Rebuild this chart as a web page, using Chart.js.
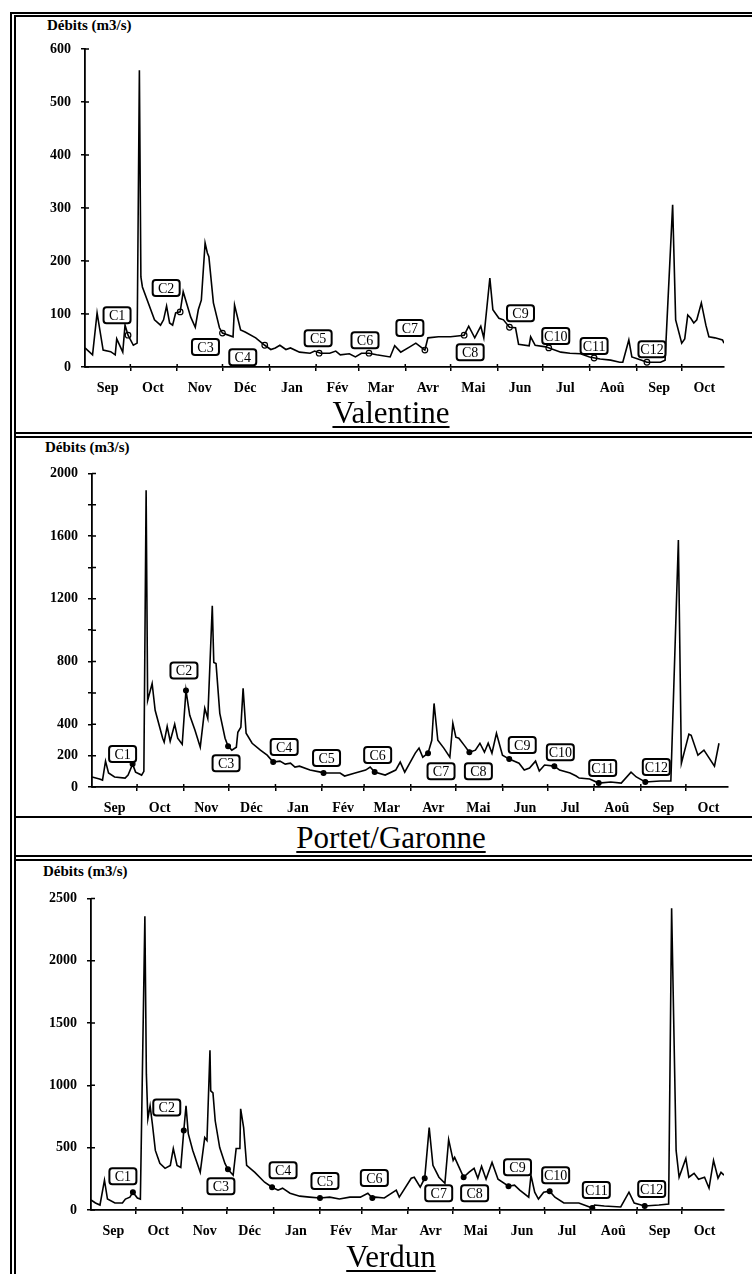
<!DOCTYPE html>
<html>
<head>
<meta charset="utf-8">
<script src="https://cdn.jsdelivr.net/npm/chart.js@4.4.1/dist/chart.umd.min.js"></script>
<style>
  html, body { margin: 0; padding: 0; background: #fff; }
  #page { position: relative; width: 752px; height: 1274px; overflow: hidden; font-family: "Liberation Serif", "Times New Roman", serif; }
  canvas { position: absolute; left: 0; }
  .rule { position: absolute; background: #000; }
  .ytitle { position: absolute; font-weight: bold; font-size: 15px; line-height: 1; white-space: nowrap; }
  .station { position: absolute; left: 191px; width: 400px; text-align: center; font-size: 31px; line-height: 1;
             text-decoration: underline; text-decoration-thickness: 2px; text-underline-offset: 3px; }
</style>
</head>
<body>
<div id="page">
  <div class="rule" style="left:10px;top:12px;width:2px;height:1262px"></div>
  <div class="rule" style="left:14px;top:15px;width:2px;height:1259px"></div>
  <div class="rule" style="left:10px;top:12px;width:742px;height:2px"></div>
  <div class="rule" style="left:14px;top:15px;width:738px;height:2px"></div>
  <div class="rule" style="left:14px;top:432px;width:738px;height:2px"></div>
  <div class="rule" style="left:14px;top:436px;width:738px;height:2px"></div>
  <div class="rule" style="left:14px;top:816px;width:738px;height:2px"></div>
  <div class="rule" style="left:14px;top:855px;width:738px;height:2px"></div>
  <div class="rule" style="left:14px;top:859px;width:738px;height:2px"></div>

  <div class="ytitle" style="left:47px;top:18px">Débits (m3/s)</div>
  <div class="ytitle" style="left:45px;top:440px">Débits (m3/s)</div>
  <div class="ytitle" style="left:43px;top:864px">Débits (m3/s)</div>

  <canvas id="valentine" width="752" height="380" style="top:30px"></canvas>
  <canvas id="portet" width="752" height="360" style="top:455px"></canvas>
  <canvas id="verdun" width="752" height="360" style="top:880px"></canvas>

  <div class="station" style="top:397px">Valentine</div>
  <div class="station" style="top:822px">Portet/Garonne</div>
  <div class="station" style="top:1241px">Verdun</div>
</div>
<script>
// days counted from 1 September
const monthStarts = [30, 61, 91, 122, 153, 181, 212, 242, 273, 303, 334, 365, 395];
const monthLabelDays = [15, 45, 76, 106, 137, 167, 196, 227, 257, 288, 318, 349, 380, 410];
const monthLabels = ['Sep', 'Oct', 'Nov', 'Déc', 'Jan', 'Fév', 'Mar', 'Avr', 'Mai', 'Jun', 'Jul', 'Aoû', 'Sep', 'Oct'];
const campaignNames = ['C1', 'C2', 'C3', 'C4', 'C5', 'C6', 'C7', 'C8', 'C9', 'C10', 'C11', 'C12'];

// [day, débit m3/s]
const valentineFlow = [[0,36],[5,23],[8,102],[12,32],[17,29],[20,23],[21,53],[25,28],[26.5,79],[28.5,60],[32,41],[34.5,45],
  [36,560],[37,170],[38,151],[46,89],[50,79],[52,89],[54,115],[56,83],[58,79],[60,102],[63,104],[65,142],[70,94],[73,75],
  [75,108],[77,126],[79.5,234],[81,215],[82,208],[85,121],[89,74],[91,64],[98,57],[99,117],[103,70],[106,66],[113,55],
  [119,41],[123,33],[126,36],[129,41],[133,33],[136,36],[142,28],[149,26],[152,30],[156,26],[162,26],[166,30],[169,23],
  [175,25],[179,19],[183,26],[188,26],[193,23],[202,19],[205,40],[209,28],[215,38],[219,45],[225,32],[227,55],[234,57],
  [242,57],[251,60],[254,77],[258,55],[262,77],[264,55],[268,168],[270,108],[274,92],[277,89],[281,75],[285,74],[287,43],
  [294,40],[295,57],[298,41],[305,38],[315,28],[321,26],[328,25],[334,19],[341,15],[348,13],[354,9],[356,9],[360,51],
  [362,19],[368,13],[372,9],[381,9],[384,13],[389,306],[391,89],[395,45],[397,53],[399,98],[401,92],[403,83],[405,89],
  [408,121],[411,79],[413,57],[417,55],[422,51],[423,45]];
const valentineCampaigns = [[28.5,60],[63,104],[91,64],[119,41],[155,26],[188,26],[225,32],[251,60],[281,75],[307,36],[337,17],[372,9]];

const portetFlow = [[0,64],[5,51],[7,44],[9,165],[11,89],[15,64],[22,57],[24,76],[27,146],[29,95],[33,76],[34.5,100],
  [36,1892],[37,552],[40,660],[42,489],[47,311],[48,286],[50,387],[52,292],[55,400],[57,311],[60,273],[62.5,616],[65,457],
  [68.5,362],[72,254],[75,502],[77,438],[80,1156],[81,794],[82.5,787],[85,470],[88.5,311],[90.5,260],[93,235],[96,254],
  [97,349],[99,381],[100.5,629],[102.5,343],[106.5,279],[112,235],[116.5,203],[120.5,159],[125,165],[128.5,146],[132,152],
  [135,127],[138,133],[145,108],[152,95],[154,89],[158,89],[165,89],[168,70],[175,89],[182,108],[185,127],[188,95],
  [195,76],[202,108],[205,159],[208,95],[215,216],[217.5,248],[220,190],[223.5,216],[226,298],[227.5,533],[230,298],
  [234,248],[238,190],[240,406],[242,318],[244,311],[247.5,267],[251,222],[255,235],[258,279],[261,222],[263.5,279],
  [266,216],[269,343],[273,203],[277.5,178],[284,152],[287.5,108],[291,121],[295,165],[297.5,102],[301,140],[307.5,133],
  [311,108],[318,89],[322,70],[324,57],[331,51],[337,25],[345,32],[352,25],[358.5,95],[362,64],[368,32],[378,38],
  [385,38],[390,1575],[392,152],[397,337],[398.5,330],[403,203],[407,235],[414,133],[417,279]];
const portetCampaigns = [[27,146],[62.5,616],[90.5,260],[120.5,159],[154,89],[188,95],[223.5,216],[251,222],[277.5,178],[307.5,133],[337,25],[368,32]];

const verdunFlow = [[0,80],[3,56],[6,40],[9,239],[11,88],[16,56],[21,56],[23,88],[26,103],[28,143],[31,96],[33,88],
  [36,2356],[37,1090],[38,732],[39.5,836],[41,692],[43,478],[46,374],[49.5,334],[53,358],[55,493],[57.5,358],[60,342],
  [62,637],[63.5,836],[65,613],[68,478],[73,302],[76,581],[77.5,557],[79.5,1282],[80,955],[81.5,939],[83,716],[86,501],
  [89.5,374],[91.5,326],[95,279],[97,493],[99.5,493],[100,812],[102,661],[104,358],[109.5,302],[116,223],[121,183],
  [125,159],[128,175],[133,135],[139.5,111],[146,103],[153,96],[159.5,103],[166,88],[173,103],[180,103],[185,135],
  [188,96],[190,103],[196,96],[204,159],[206,103],[214,255],[216,263],[220,183],[223,255],[226,661],[228.5,358],
  [232.5,263],[236.5,215],[239,565],[242,398],[243,422],[246,342],[249,263],[252.5,302],[256,334],[258.5,255],[261,350],
  [264,247],[268,382],[272,247],[279,191],[283,199],[286.5,159],[292.5,103],[294,279],[296.5,143],[299,88],[302.5,143],
  [306.5,151],[310,103],[316,56],[326,56],[335,16],[336.5,40],[343,32],[354,24],[359.5,143],[363,56],[370,32],
  [379.5,40],[386,48],[388,2420],[391,478],[393,263],[397.5,414],[399.5,263],[403,294],[406,247],[410,263],[413,175],
  [416,398],[419,255],[421,302],[423,279]];
const verdunCampaigns = [[28,143],[62,637],[91.5,326],[121,183],[153,96],[188,96],[223,255],[249,263],[279,191],[306.5,151],[335,16],[370,32]];

const valentineTicks = [0, 100, 200, 300, 400, 500, 600];
const valentineTickLabels = ['0', '100', '200', '300', '400', '500', '600'];
const portetTicks = [0, 200, 400, 600, 800, 1000, 1200, 1400, 1600, 1800, 2000];
const portetTickLabels = ['0', '200', '400', '', '800', '', '1200', '', '1600', '', '2000'];
const verdunTicks = [0, 500, 1000, 1500, 2000, 2500];
const verdunTickLabels = ['0', '500', '1000', '1500', '2000', '2500'];

// label box offsets from each campaign marker, in pixels
const valentineBoxOffsets = [[-11,-20],[-14,-24],[-17,14],[-22,12],[-1,-15],[-4,-13],[-15,-22],[6,17],[11,-14],[7,-12],[0,-12],[5,-13]];
const portetBoxOffsets = [[-10,-10],[-2,-20],[-2,17],[11,-15],[3,-15],[3,-17],[13,18],[9,19],[13,-14],[6,-14],[4,-15],[11,-15]];
const verdunBoxOffsets = [[-10,-16],[-17,-23],[-7,17],[11,-17],[5,-17],[2,-20],[14,15],[11,16],[9,-19],[6,-16],[4,-18],[7,-17]];

const serif = '"Liberation Serif", "Times New Roman", serif';

// tick marks crossing the axes
const crossTicks = {
  id: 'crossTicks',
  afterDraw(chart) {
    const { ctx, scales: { x, y } } = chart;
    ctx.save();
    ctx.strokeStyle = '#000';
    ctx.lineWidth = 1.5;
    ctx.beginPath();
    y.ticks.forEach(t => {
      const py = y.getPixelForValue(t.value);
      ctx.moveTo(y.right, py);
      ctx.lineTo(y.right + 4, py);
    });
    monthStarts.forEach(d => {
      const px = x.getPixelForValue(d);
      ctx.moveTo(px, x.top);
      ctx.lineTo(px, x.top - 3);
    });
    ctx.stroke();
    ctx.restore();
  }
};

const campaignBoxes = {
  id: 'campaignBoxes',
  afterDatasetsDraw(chart, args, opts) {
    const meta = chart.getDatasetMeta(1);
    const ctx = chart.ctx;
    ctx.save();
    ctx.font = '14px ' + serif;
    ctx.textAlign = 'center';
    ctx.textBaseline = 'middle';
    meta.data.forEach((pt, i) => {
      const [dx, dy] = opts.offsets[i];
      const cx = pt.x + dx, cy = pt.y + dy;
      ctx.beginPath();
      ctx.roundRect(cx - 13.5, cy - 8, 27, 16, 3);
      ctx.fillStyle = '#fff';
      ctx.fill();
      ctx.lineWidth = 2;
      ctx.strokeStyle = '#000';
      ctx.stroke();
      ctx.fillStyle = '#000';
      ctx.fillText(campaignNames[i], cx, cy + 1);
    });
    ctx.restore();
  }
};

function makeChart(id, flow, campaigns, offsets, yTicks, yLabels, openMarkers, box) {
  const tickFont = { family: serif, size: 14, weight: 'bold' };
  return new Chart(document.getElementById(id), {
    type: 'line',
    data: {
      datasets: [{
        data: flow.map(p => ({ x: p[0], y: p[1] })),
        borderColor: '#000',
        borderWidth: 1.6,
        pointRadius: 0,
        tension: 0
      }, {
        data: campaigns.map(p => ({ x: p[0], y: p[1] })),
        showLine: false,
        pointRadius: openMarkers ? 2.8 : 2.4,
        pointBackgroundColor: openMarkers ? '#fff' : '#000',
        pointBorderColor: '#000',
        pointBorderWidth: 1.2
      }]
    },
    options: {
      responsive: false,
      devicePixelRatio: 1,
      animation: false,
      layout: { padding: { left: 0, right: box.right, top: box.top, bottom: 0 } },
      plugins: {
        legend: { display: false },
        tooltip: { enabled: false },
        campaignBoxes: { offsets: offsets }
      },
      scales: {
        x: {
          type: 'linear',
          min: 0,
          max: 423,
          afterFit: s => { s.height = box.bottom; },
          afterBuildTicks: s => {
            s.ticks = monthStarts.concat(monthLabelDays).sort((a, b) => a - b).map(v => ({ value: v }));
          },
          ticks: {
            autoSkip: false,
            maxRotation: 0,
            padding: 9,
            color: '#000',
            font: tickFont,
            callback: v => {
              const k = monthLabelDays.indexOf(v);
              return k >= 0 ? monthLabels[k] : '';
            }
          },
          grid: {
            drawOnChartArea: false,
            tickLength: 4,
            lineWidth: 1.5,
            color: c => (c.tick && monthStarts.includes(c.tick.value)) ? '#000' : 'rgba(0,0,0,0)'
          },
          border: { color: '#000', width: 1.8 }
        },
        y: {
          min: 0,
          max: yTicks[yTicks.length - 1],
          afterFit: s => { s.width = box.left; },
          afterBuildTicks: s => { s.ticks = yTicks.map(v => ({ value: v })); },
          ticks: {
            autoSkip: false,
            padding: 10,
            color: '#000',
            font: tickFont,
            callback: (v, i) => yLabels[i]
          },
          grid: { drawOnChartArea: false, tickLength: 4, lineWidth: 1.5, color: '#000' },
          border: { color: '#000', width: 1.8 }
        }
      }
    },
    plugins: [crossTicks, campaignBoxes]
  });
}

makeChart('valentine', valentineFlow, valentineCampaigns, valentineBoxOffsets, valentineTicks, valentineTickLabels, true,
  { left: 85, right: 28, top: 19, bottom: 43 });
makeChart('portet', portetFlow, portetCampaigns, portetBoxOffsets, portetTicks, portetTickLabels, false,
  { left: 92, right: 24, top: 17, bottom: 28 });
makeChart('verdun', verdunFlow, verdunCampaigns, verdunBoxOffsets, verdunTicks, verdunTickLabels, false,
  { left: 91, right: 28, top: 16, bottom: 30 });
</script>
</body>
</html>
